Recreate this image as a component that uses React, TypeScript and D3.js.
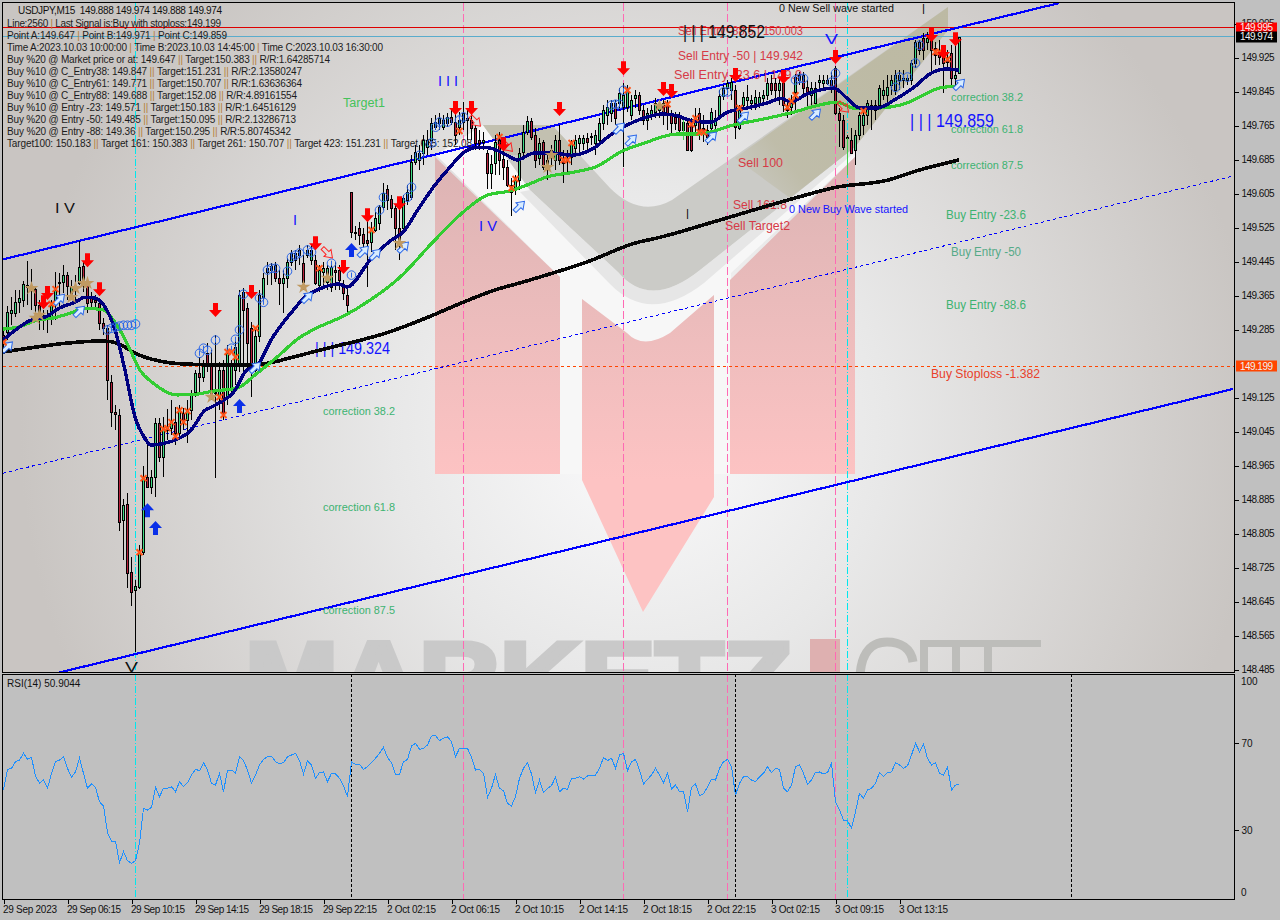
import { useEffect, useRef } from "react";
import * as d3 from "d3";

const W = 1280;
const H = 920;
const PLOT = { left: 3, right: 1234, top: 3, bottom: 672 };
const RSI_PANEL = { top: 674, bottom: 899 };

const opens = [
  149.272,149.279,149.324,149.324,149.350,149.354,149.389,149.385,149.380,149.342,
  149.307,149.316,149.314,149.354,149.394,149.396,149.413,149.361,149.382,149.394,
  149.434,149.394,149.361,149.354,149.347,149.300,149.288,149.161,149.091,149.084,
  148.836,148.874,148.714,148.672,148.679,148.761,148.938,148.914,148.938,149.065,
  148.985,149.055,149.053,149.067,149.041,149.088,149.072,149.095,149.138,149.182,
  149.173,149.229,149.206,149.138,149.126,149.189,149.126,149.142,149.189,149.206,
  149.373,149.335,149.288,149.189,149.269,149.361,149.420,149.425,149.436,149.406,
  149.394,149.406,149.444,149.465,149.460,149.441,149.460,149.448,149.448,149.389,
  149.420,149.396,149.385,149.425,149.425,149.385,149.366,149.608,149.514,149.524,
  149.509,149.495,149.491,149.519,149.535,149.573,149.615,149.592,149.571,149.524,
  149.524,149.589,149.596,149.679,149.684,149.700,149.714,149.731,149.761,149.771,
  149.761,149.771,149.785,149.773,149.761,149.773,149.782,149.778,149.759,149.731,
  149.726,149.700,149.653,149.676,149.731,149.686,149.667,149.625,149.620,149.636,
  149.702,149.749,149.775,149.742,149.688,149.726,149.665,149.695,149.684,149.731,
  149.688,149.688,149.691,149.712,149.724,149.724,149.735,149.738,149.724,149.731,
  149.771,149.789,149.794,149.818,149.818,149.808,149.808,149.789,149.829,149.836,
  149.801,149.778,149.789,149.796,149.801,149.818,149.813,149.794,149.785,149.785,
  149.754,149.771,149.766,149.766,149.794,149.759,149.754,149.759,149.766,149.789,
  149.834,149.853,149.848,149.848,149.759,149.813,149.825,149.818,149.818,149.818,
  149.829,149.836,149.865,149.865,149.848,149.865,149.813,149.808,149.844,149.872,
  149.884,149.855,149.836,149.818,149.867,149.865,149.865,149.872,149.900,149.794,
  149.778,149.735,149.731,149.707,149.742,149.766,149.789,149.806,149.801,149.813,
  149.836,149.836,149.860,149.848,149.872,149.872,149.872,149.872,149.912,149.961,
  149.971,149.961,149.971,149.947,149.942,149.938,149.926,149.935,149.876,149.888,
];

const closes = [
  149.253,149.326,149.331,149.350,149.359,149.392,149.385,149.380,149.342,149.319,
  149.316,149.312,149.342,149.378,149.396,149.413,149.387,149.385,149.378,149.432,
  149.389,149.347,149.350,149.350,149.300,149.288,149.166,149.091,149.086,148.832,
  148.872,148.712,148.667,148.681,148.759,148.935,148.914,148.938,149.065,148.985,
  149.053,149.048,149.067,149.041,149.095,149.067,149.095,149.131,149.182,149.173,
  149.201,149.201,149.126,149.138,149.189,149.088,149.229,149.201,149.244,149.366,
  149.331,149.253,149.196,149.269,149.366,149.406,149.429,149.434,149.406,149.394,
  149.406,149.444,149.465,149.448,149.472,149.396,149.472,149.472,149.394,149.425,
  149.429,149.429,149.432,149.420,149.401,149.371,149.342,149.514,149.512,149.507,
  149.488,149.488,149.524,149.547,149.573,149.606,149.589,149.571,149.524,149.495,
  149.594,149.608,149.679,149.702,149.700,149.731,149.731,149.771,149.773,149.782,
  149.778,149.785,149.773,149.742,149.778,149.794,149.778,149.759,149.724,149.724,
  149.731,149.653,149.674,149.726,149.684,149.667,149.625,149.608,149.636,149.700,
  149.749,149.775,149.738,149.684,149.724,149.667,149.684,149.707,149.731,149.684,
  149.676,149.684,149.724,149.731,149.735,149.735,149.726,149.740,149.742,149.771,
  149.801,149.808,149.818,149.782,149.841,149.836,149.848,149.825,149.836,149.801,
  149.778,149.794,149.801,149.818,149.813,149.789,149.789,149.771,149.771,149.754,
  149.773,149.707,149.707,149.785,149.747,149.747,149.738,149.796,149.782,149.834,
  149.853,149.865,149.867,149.761,149.806,149.832,149.832,149.825,149.832,149.832,
  149.836,149.865,149.848,149.848,149.865,149.813,149.801,149.825,149.879,149.884,
  149.853,149.841,149.853,149.853,149.872,149.872,149.872,149.855,149.794,149.778,
  149.714,149.738,149.700,149.742,149.789,149.789,149.818,149.813,149.813,149.853,
  149.848,149.855,149.872,149.884,149.884,149.876,149.876,149.912,149.961,149.942,
  149.942,149.971,149.942,149.931,149.926,149.912,149.914,149.876,149.884,149.974,
];

const highs = [
  149.288,149.340,149.361,149.378,149.378,149.399,149.446,149.427,149.385,149.354,
  149.331,149.331,149.354,149.420,149.418,149.436,149.420,149.401,149.413,149.493,
  149.444,149.406,149.373,149.366,149.354,149.312,149.295,149.178,149.107,149.098,
  148.886,148.900,148.749,148.695,148.778,148.964,149.018,148.954,149.076,149.076,
  149.079,149.098,149.119,149.102,149.107,149.100,149.119,149.142,149.189,149.220,
  149.213,149.253,149.236,149.272,149.208,149.213,149.248,149.213,149.267,149.378,
  149.382,149.347,149.302,149.284,149.378,149.418,149.444,149.441,149.444,149.425,
  149.425,149.453,149.472,149.472,149.484,149.460,149.484,149.484,149.460,149.436,
  149.444,149.436,149.444,149.444,149.436,149.401,149.389,149.608,149.528,149.538,
  149.524,149.542,149.538,149.561,149.578,149.629,149.625,149.601,149.578,149.578,
  149.601,149.625,149.695,149.719,149.719,149.742,149.754,149.782,149.789,149.794,
  149.789,149.794,149.801,149.796,149.796,149.820,149.801,149.806,149.766,149.754,
  149.749,149.707,149.695,149.742,149.749,149.707,149.684,149.641,149.648,149.712,
  149.766,149.787,149.782,149.759,149.735,149.731,149.695,149.719,149.742,149.766,
  149.707,149.707,149.731,149.742,149.742,149.742,149.747,149.747,149.754,149.782,
  149.813,149.825,149.825,149.825,149.853,149.865,149.860,149.836,149.848,149.844,
  149.813,149.806,149.813,149.829,149.825,149.825,149.825,149.801,149.796,149.796,
  149.778,149.782,149.782,149.806,149.806,149.789,149.766,149.806,149.801,149.848,
  149.860,149.872,149.876,149.860,149.813,149.844,149.860,149.836,149.848,149.844,
  149.848,149.876,149.884,149.876,149.876,149.872,149.825,149.836,149.886,149.891,
  149.891,149.872,149.867,149.867,149.884,149.884,149.884,149.891,149.905,149.806,
  149.789,149.742,149.759,149.754,149.796,149.801,149.825,149.825,149.825,149.860,
  149.872,149.884,149.884,149.895,149.895,149.895,149.884,149.919,149.966,149.966,
  149.982,149.985,149.978,149.961,149.966,149.947,149.942,149.954,149.961,149.974,
];

const lows = [
  149.232,149.260,149.295,149.314,149.324,149.338,149.342,149.331,149.319,149.284,
  149.284,149.276,149.295,149.307,149.340,149.371,149.354,149.354,149.354,149.389,
  149.373,149.324,149.335,149.331,149.284,149.272,149.119,149.055,149.048,148.811,
  148.742,148.676,148.634,148.526,148.674,148.754,148.912,148.898,148.891,148.973,
  148.938,149.025,149.036,149.013,149.025,149.048,149.018,149.072,149.126,149.138,
  149.161,149.185,149.119,148.935,149.095,149.072,149.107,149.131,149.154,149.185,
  149.173,149.189,149.126,149.182,149.255,149.354,149.389,149.389,149.396,149.342,
  149.324,149.382,149.434,149.425,149.436,149.378,149.453,149.436,149.389,149.373,
  149.389,149.378,149.373,149.378,149.378,149.354,149.324,149.500,149.495,149.484,
  149.472,149.385,149.467,149.514,149.519,149.566,149.566,149.547,149.472,149.448,
  149.514,149.578,149.589,149.672,149.660,149.672,149.695,149.707,149.754,149.754,
  149.754,149.761,149.766,149.719,149.742,149.754,149.731,149.731,149.707,149.707,
  149.707,149.615,149.615,149.648,149.648,149.636,149.620,149.552,149.601,149.613,
  149.693,149.742,149.731,149.665,149.672,149.660,149.636,149.672,149.660,149.672,
  149.629,149.653,149.672,149.695,149.695,149.707,149.707,149.719,149.695,149.719,
  149.754,149.766,149.773,149.766,149.801,149.667,149.796,149.778,149.806,149.789,
  149.766,149.754,149.778,149.782,149.782,149.766,149.754,149.747,149.754,149.742,
  149.754,149.705,149.702,149.742,149.731,149.726,149.719,149.749,149.749,149.782,
  149.825,149.836,149.825,149.733,149.754,149.801,149.806,149.801,149.801,149.806,
  149.813,149.825,149.836,149.825,149.813,149.796,149.782,149.789,149.801,149.860,
  149.836,149.801,149.813,149.806,149.848,149.848,149.860,149.841,149.789,149.714,
  149.707,149.648,149.700,149.672,149.731,149.742,149.766,149.754,149.778,149.801,
  149.825,149.820,149.836,149.836,149.848,149.853,149.860,149.860,149.900,149.931,
  149.919,149.942,149.891,149.907,149.907,149.841,149.895,149.860,149.860,149.888,
];

const rsiValues = [
  48.4,57.9,58.4,61.4,62.2,65.3,62.5,63.4,54.9,51.5,
  53.0,49.2,56.1,61.4,62.2,63.7,58.4,54.3,56.8,63.0,
  56.1,49.2,51.2,49.6,43.0,41.1,28.8,24.8,24.8,15.0,
  20.1,15.9,14.7,15.9,23.9,40.0,39.2,40.4,49.6,45.4,
  49.2,49.2,49.9,47.6,52.2,49.9,51.8,55.3,57.9,57.3,
  61.0,57.6,51.5,50.7,56.1,47.6,57.6,57.6,56.1,63.7,
  61.9,57.6,51.5,55.3,59.9,62.5,63.7,64.0,61.4,60.4,
  61.0,63.7,64.5,65.3,61.9,55.8,61.9,59.9,53.8,56.4,
  56.7,52.2,56.1,55.8,53.8,50.3,45.4,61.3,60.2,60.2,
  57.9,59.1,61.0,63.0,65.3,68.0,63.4,61.0,55.6,55.6,
  61.4,62.5,68.6,69.9,67.1,67.6,69.1,73.2,73.5,71.1,
  72.2,72.9,70.6,63.7,67.6,67.6,67.6,63.4,57.6,57.9,
  56.1,45.0,49.2,55.6,49.2,
  48.1,42.3,41.1,45.4,53.8,58.4,61.0,55.8,47.2,53.0,
  47.2,49.2,50.4,54.3,47.6,49.2,48.7,53.8,53.8,54.5,
  53.5,54.9,55.2,55.2,58.4,63.4,61.9,63.0,58.4,64.5,
  65.3,57.3,61.4,62.5,57.6,51.2,53.3,55.3,58.4,55.3,
  51.8,56.1,48.9,50.7,47.6,47.6,38.4,49.6,51.2,45.8,
  46.6,49.9,53.3,53.0,58.4,61.4,62.5,59.1,46.1,51.5,
  54.5,54.5,53.0,52.2,54.5,56.1,59.1,56.4,58.4,57.9,
  49.2,47.6,50.7,59.1,59.9,56.1,51.0,53.0,56.5,56.7,
  55.8,56.4,60.7,43.0,39.2,34.6,34.3,30.8,38.4,46.9,
  44.6,48.4,49.2,51.5,56.4,54.5,56.4,56.7,61.0,59.9,
  58.4,59.5,64.5,69.9,66.0,69.6,63.0,59.9,61.0,56.1,
  55.3,59.1,48.4,50.7,50.9,
];

const navyBars = [0,7,11,14,18,20.5,23,25.5,28,30.5,33,35.5,37,39,43,47,50.5,52,54,58,60.5,64,67,72,75.5,79,84,86,91.75,96.75,100,104,108,111.75,115,118.75,121.75,126,128.5,132.75,137.75,142,147.75,151.75,156,160,165,168,172.75,177,181,186,191,194.75,196.75,201,207.75,211,214.25,218.5,223.5,227.75,232,236,239];
const navyPrices = [149.260,149.307,149.316,149.335,149.349,149.361,149.359,149.338,149.284,149.189,149.079,149.029,149.013,149.015,149.025,149.048,149.095,149.102,149.112,149.142,149.185,149.206,149.260,149.324,149.361,149.380,149.392,149.385,149.448,149.493,149.514,149.571,149.625,149.667,149.700,149.714,149.712,149.695,149.684,149.700,149.700,149.695,149.712,149.742,149.766,149.782,149.792,149.789,149.775,149.773,149.796,149.806,149.818,149.829,149.820,149.839,149.853,149.829,149.806,149.806,149.829,149.855,149.888,149.898,149.895];
const greenBars = [0,4,8.5,12.5,16,21,25,28,31,34.25,37.5,43.5,48.5,52.5,58.5,63.5,68.5,74,79,85,91.75,99.25,107.5,115,121,126.75,131,136,142.5,148.5,154.25,161,168.5,174,182.5,190,197.5,204,208.5,212.75,218.5,226,231,234,239];
const greenPrices = [149.286,149.291,149.307,149.312,149.321,149.335,149.331,149.302,149.253,149.189,149.159,149.131,149.133,149.140,149.147,149.182,149.220,149.265,149.291,149.316,149.354,149.408,149.491,149.561,149.601,149.611,149.625,149.644,149.655,149.669,149.702,149.726,149.745,149.745,149.766,149.780,149.796,149.813,149.820,149.806,149.806,149.818,149.841,149.853,149.858];
const blackBars = [0,8.5,16,25,28.5,33.5,39,45,57.5,65,72.5,79,96.5,105.75,115,123,129,146,159,162.5,179,196,208.5,221,229,239];
const blackPrices = [149.232,149.244,149.253,149.258,149.253,149.227,149.211,149.204,149.201,149.204,149.220,149.236,149.279,149.312,149.349,149.378,149.394,149.444,149.491,149.498,149.542,149.589,149.620,149.636,149.660,149.684];

const downArrowBars = [21,11,10,24,53,62,78,85,91,99,113,117,125,139,155,165,167,183,195,208,232,235,238];
const downArrowPrices = [149.448,149.371,149.349,149.380,149.331,149.373,149.488,149.432,149.554,149.582,149.806,149.806,149.721,149.804,149.900,149.851,149.846,149.884,149.879,149.926,149.978,149.938,149.968];
const upArrowBars = [59,36,38,87];
const upArrowPrices = [149.105,148.860,148.818,149.472];
const crossBars = [0,13,12,40,41,42,43,44,46,45,55,54,56,57,58,63,35,34,79,92,114,124,128,127,140,141,142,156,166,172,173,174,175,184,196,197,198,215,233,234,236];
const crossPrices = [149.255,149.380,149.345,149.051,149.053,149.067,149.034,149.095,149.093,149.067,149.084,149.126,149.232,149.232,149.220,149.288,148.935,148.761,149.429,149.519,149.752,149.738,149.639,149.618,149.684,149.684,149.724,149.848,149.815,149.768,149.782,149.749,149.749,149.806,149.808,149.822,149.836,149.799,149.938,149.938,149.921];
const starBars = [7,9,8,17,18,21,20,52,75,81,99,137,136,164];
const starPrices = [149.382,149.319,149.312,149.361,149.382,149.394,149.394,149.126,149.385,149.406,149.488,149.695,149.667,149.811];
const ringBars = [26,27,28,29,30,31,32,33,49,50,51,53,57,58,59,60,64,65,66,67,68,71,72,73,74,76,77,82,87,94,95,101,102,104,107,108,109,111,114,115,152,153,154,155,180,181,198,199,200,207,208,223,224,226,228,229];
const ringPrices = [149.284,149.288,149.291,149.293,149.295,149.295,149.295,149.298,149.229,149.241,149.236,149.260,149.241,149.262,149.284,149.368,149.359,149.349,149.425,149.429,149.429,149.422,149.455,149.460,149.465,149.472,149.467,149.441,149.413,149.566,149.596,149.596,149.620,149.695,149.724,149.761,149.773,149.773,149.778,149.785,149.813,149.815,149.815,149.848,149.844,149.844,149.872,149.876,149.876,149.867,149.888,149.855,149.879,149.879,149.912,149.954];
const hollowUpBars = [1,14,19,63,76,90,93,100,129,154,157,177,185,203,239];
const hollowUpPrices = [149.244,149.356,149.328,149.196,149.361,149.469,149.462,149.479,149.575,149.759,149.731,149.738,149.785,149.792,149.862];
const hollowDownBars = [81,118,126,210];
const hollowDownPrices = [149.465,149.775,149.716,149.808];
const thinGreenBars = [57,170,211];
const thinGreenTops = [149.189,149.785,149.735];
const thinGreenBottoms = [149.142,149.730,149.648];

const priceTicks = [150.005,149.925,149.845,149.765,149.685,149.605,149.525,149.445,149.365,149.285,149.125,149.045,148.965,148.885,148.805,148.725,148.645,148.565,148.485];
const timeBars = [0,16,32,48,64,80,96,112,128,144,160,176,192,208,224];
const timeLabels = ["29 Sep 2023","29 Sep 06:15","29 Sep 10:15","29 Sep 14:15","29 Sep 18:15","29 Sep 22:15","2 Oct 02:15","2 Oct 06:15","2 Oct 10:15","2 Oct 14:15","2 Oct 18:15","2 Oct 22:15","3 Oct 02:15","3 Oct 09:15","3 Oct 13:15"];

const cyanLineBars = [33,211];
const pinkLineBars = [115,155,181,208];
const blackLineBars = [87,183,267];

// [start bar, start price, end bar, end price]
const channelTop = [0,149.450,264,150.053];
const channelBottom = [0,148.446,307.5,149.145];
const channelMid = [0,148.947,307.5,149.646];

const resistanceLevel = 149.995;
const bidLevel = 149.974;
const stopLevel = 149.199;

const infoLines = [
  { t: "Line:2560 | Last Signal is:Buy with stoploss:149.199", w: 214 },
  { t: "Point A:149.647 | Point B:149.971 | Point C:149.859", w: 220 },
  { t: "Time A:2023.10.03 10:00:00 | Time B:2023.10.03 14:45:00 | Time C:2023.10.03 16:30:00", w: 376 },
  { t: "Buy %20 @ Market price or at: 149.647 || Target:150.383 || R/R:1.64285714", w: 323 },
  { t: "Buy %10 @ C_Entry38: 149.847 || Target:151.231 || R/R:2.13580247", w: 295 },
  { t: "Buy %10 @ C_Entry61: 149.771 || Target:150.707 || R/R:1.63636364", w: 295 },
  { t: "Buy %10 @ C_Entry88: 149.688 || Target:152.08 || R/R:4.89161554", w: 290 },
  { t: "Buy %10 @ Entry -23: 149.571 || Target:150.183 || R/R:1.64516129", w: 289 },
  { t: "Buy %20 @ Entry -50: 149.485 || Target:150.095 || R/R:2.13286713", w: 289 },
  { t: "Buy %20 @ Entry -88: 149.36 || Target:150.295 || R/R:5.80745342", w: 284 },
  { t: "Target100: 150.183 || Target 161: 150.383 || Target 261: 150.707 || Target 423: 151.231 || Target 685: 152.08", w: 465 },
];

const GREEN = "#3cb371";
const RED = "#d63a46";
const BLUE = "#1414ff";
const annotations: [string, number, number, number, number, string][] = [
  ["Target1", 343, 107, 42, 12.5, "#45c25a"],
  ["correction 38.2", 951, 101, 72, 11.5, GREEN],
  ["correction 61.8", 951, 133, 72, 11.5, GREEN],
  ["correction 87.5", 951, 169, 72, 11.5, GREEN],
  ["correction 38.2", 323, 415, 72, 11.5, GREEN],
  ["correction 61.8", 323, 511, 72, 11.5, GREEN],
  ["correction 87.5", 323, 614, 72, 11.5, GREEN],
  ["Buy Entry -23.6", 946, 219, 80, 12, GREEN],
  ["Buy Entry -50", 951, 256, 70, 12, "#55aa88"],
  ["Buy Entry -88.6", 946, 309, 80, 12, GREEN],
  ["Buy Stoploss -1.382", 931, 378, 109, 12, "#e8402a"],
  ["Sell Entry -88.6 | 150.003", 678, 35, 125, 12, RED],
  ["Sell Entry -50 | 149.942", 678, 60, 125, 12, RED],
  ["Sell Entry -23.6 | 149.9", 674, 79, 128, 12, RED],
  ["Sell 100", 738, 167, 45, 12, RED],
  ["Sell 161.8", 733, 209, 54, 12, RED],
  ["Sell Target2", 725, 230, 65, 12, RED],
  ["| | | 149.852", 683, 38, 82, 18, "#111111"],
  ["| | | 149.859", 910, 127, 84, 18, BLUE],
  ["| | | 149.324", 315, 354, 75, 16, BLUE],
  ["0 New Buy Wave started", 789, 213, 119, 11.5, BLUE],
  ["0 New Sell wave started", 779, 12, 115, 11.5, "#111111"],
  ["I V", 55, 213, 20, 15, "#111111"],
  ["I", 293, 225, 4, 15, BLUE],
  ["I", 686, 219, 3, 15, "#111111"],
  ["I", 922, 14, 3, 14, "#111111"],
  ["V", 125, 672, 13, 15, "#111111"],
  ["V", 825, 44, 13, 15, BLUE],
  ["I V", 479, 231, 18, 15, BLUE],
  ["I I I", 438, 86, 20, 15, BLUE],
];

export default function App() {
  const svgRef = useRef<SVGSVGElement>(null);

  useEffect(() => {
    if (!svgRef.current) return;
    const svg = d3.select(svgRef.current);
    svg.selectAll("*").remove();

    const x = d3.scaleLinear().domain([0, 1]).range([3, 7]);
    const y = d3.scaleLinear().domain([149.925, 148.485]).range([57.5, 669.5]);
    const rsiY = d3.scaleLinear().domain([0, 100]).range([895.3, 677.8]);

    svg.append("rect").attr("width", W).attr("height", H).attr("fill", "#c0c0c0");

    const defs = svg.append("defs");
    defs.append("clipPath").attr("id", "plot-clip").append("rect")
      .attr("x", PLOT.left).attr("y", PLOT.top)
      .attr("width", PLOT.right - PLOT.left).attr("height", PLOT.bottom - PLOT.top);
    const bg = defs.append("radialGradient").attr("id", "plot-bg")
      .attr("gradientUnits", "userSpaceOnUse")
      .attr("cx", 640).attr("cy", 430).attr("r", 620);
    bg.append("stop").attr("offset", "0").attr("stop-color", "#fbfbfc");
    bg.append("stop").attr("offset", "0.4").attr("stop-color", "#e8e8e8");
    bg.append("stop").attr("offset", "1").attr("stop-color", "#c9c5c2");
    const redFill = defs.append("linearGradient").attr("id", "logo-red")
      .attr("gradientUnits", "userSpaceOnUse")
      .attr("x1", 0).attr("x2", 0).attr("y1", 160).attr("y2", 480);
    redFill.append("stop").attr("offset", "0").attr("stop-color", "#dcb4b4");
    redFill.append("stop").attr("offset", "0.5").attr("stop-color", "#ecbcbc");
    redFill.append("stop").attr("offset", "1").attr("stop-color", "#fdc3c3");
    const oliveFill = defs.append("linearGradient").attr("id", "logo-olive")
      .attr("gradientUnits", "userSpaceOnUse")
      .attr("x1", 900).attr("y1", 60).attr("x2", 730).attr("y2", 190);
    oliveFill.append("stop").attr("offset", "0").attr("stop-color", "#bcb9a2").attr("stop-opacity", 0.95);
    oliveFill.append("stop").attr("offset", "0.7").attr("stop-color", "#bcb9a2").attr("stop-opacity", 0.8);
    oliveFill.append("stop").attr("offset", "1").attr("stop-color", "#bcb9a2").attr("stop-opacity", 0);

    const plot = svg.append("g").attr("clip-path", "url(#plot-clip)");
    plot.append("rect").attr("x", PLOT.left).attr("y", PLOT.top)
      .attr("width", PLOT.right - PLOT.left).attr("height", PLOT.bottom - PLOT.top)
      .attr("fill", "url(#plot-bg)");

    // watermark logo
    const logo = plot.append("g");
    logo.append("path")
      .attr("d", "M436,155 L483,125 L530,190 L618,272 Q650,310 700,270 L855,147 L855,157 L731,273 L731,474 L714,474 L714,295 L670,333 Q643,350 627,333 L582,299 L582,474 L560,474 L560,277 Z")
      .attr("fill", "#f7f7f7");
    logo.append("path")
      .attr("d", "M520,192 L530,190 L618,272 Q650,310 700,270 L855,147 L855,152 L704,283 Q650,325 610,284 Z")
      .attr("fill", "#e6e6e6");
    logo.append("path")
      .attr("d", "M483,125 L552,125 L610,188 Q640,218 672,200 L948,7 L948,30 L855,147 L700,270 Q650,310 618,272 L530,190 Z")
      .attr("fill", "#cbcbc7");
    logo.append("path").attr("d", "M483,125 L552,125 L580,155 L505,155 Z").attr("fill", "#bdbba6").attr("opacity", 0.7);
    logo.append("path").attr("d", "M735,158 L948,7 L948,30 L855,147 L790,198 Z").attr("fill", "url(#logo-olive)");
    logo.append("path").attr("d", "M435,157 L560,277 L560,474 L435,474 Z").attr("fill", "url(#logo-red)");
    logo.append("path").attr("d", "M730,280 L855,157 L855,474 L730,474 Z").attr("fill", "url(#logo-red)");
    logo.append("path")
      .attr("d", "M582,299 L627,333 Q643,350 670,333 L714,295 L714,497 L643,612 L582,480 Z")
      .attr("fill", "url(#logo-red)");
    logo.append("text").attr("x", 245).attr("y", 712)
      .attr("font-family", "Liberation Sans").attr("font-weight", 700).attr("font-size", 100)
      .attr("textLength", 547).attr("lengthAdjust", "spacingAndGlyphs")
      .attr("fill", "#c9c9c9").attr("stroke", "#c9c9c9").attr("stroke-width", 5).text("MARKETZ");
    logo.append("rect").attr("x", 810).attr("y", 639).attr("width", 30).attr("height", 40).attr("fill", "#deb0b0");
    logo.append("path").attr("d", "M913,662 C911,648 900,642 887,642 C868,642 860,658 860,680")
      .attr("fill", "none").attr("stroke", "#bdbdba").attr("stroke-width", 9);
    logo.append("rect").attr("x", 920).attr("y", 640).attr("width", 121).attr("height", 7).attr("fill", "#bdbdba");
    [920, 952, 984].forEach((sx) => {
      logo.append("rect").attr("x", sx).attr("y", 647).attr("width", 8).attr("height", 30).attr("fill", "#bdbdba");
    });

    const vLines = (g: any, bars: number[], color: string, dash: string, y1: number, y2: number) => {
      g.selectAll(null).data(bars).enter().append("line")
        .attr("x1", (d: number) => x(d) + 0.5).attr("x2", (d: number) => x(d) + 0.5)
        .attr("y1", y1).attr("y2", y2)
        .attr("stroke", color).attr("stroke-dasharray", dash).attr("shape-rendering", "crispEdges");
    };
    vLines(plot, pinkLineBars, "#ff69b4", "8 3", PLOT.top, PLOT.bottom);
    vLines(plot, cyanLineBars, "#00e8ee", "7 2 1 2", PLOT.top, PLOT.bottom);

    // horizontal levels
    const hLine = (level: number, color: string, dash: string | null) => {
      const py = Math.floor(y(level)) + 0.5;
      plot.append("line").attr("x1", PLOT.left).attr("x2", PLOT.right).attr("y1", py).attr("y2", py)
        .attr("stroke", color).attr("stroke-dasharray", dash).attr("shape-rendering", "crispEdges");
    };
    hLine(resistanceLevel, "#dd0000", null);
    hLine(bidLevel, "#5aaccc", null);
    hLine(stopLevel, "#ff4500", "3 3");

    // channel
    const channel = (c: number[], width: number, dash: string | null) => {
      plot.append("line")
        .attr("x1", x(c[0])).attr("y1", y(c[1])).attr("x2", x(c[2])).attr("y2", y(c[3]))
        .attr("stroke", "#0000ff").attr("stroke-width", width).attr("stroke-dasharray", dash)
        .attr("shape-rendering", "crispEdges");
    };
    channel(channelTop, 2.2, null);
    channel(channelBottom, 2.2, null);
    channel(channelMid, 1, "3 3");

    // info text, top left
    const infoFont = "Liberation Sans";
    plot.append("text").attr("x", 18).attr("y", 13.5).attr("font-family", infoFont).attr("font-size", 10)
      .attr("fill", "#111").attr("textLength", 204).attr("xml:space", "preserve")
      .text("USDJPY,M15  149.888 149.974 149.888 149.974");
    infoLines.forEach((line, i) => {
      const te = plot.append("text").attr("x", 7).attr("y", 26.5 + i * 12)
        .attr("font-family", infoFont).attr("font-size", 10).attr("fill", "#1c1c1c")
        .attr("textLength", line.w);
      line.t.split(/(\|\|?)/).forEach((part) => {
        te.append("tspan").attr("fill", part.startsWith("|") ? "#b5803c" : "#1c1c1c").text(part);
      });
    });

    plot.selectAll("text.note").data(annotations).enter().append("text")
      .attr("class", "note")
      .attr("x", (d) => d[1]).attr("y", (d) => d[2])
      .attr("textLength", (d) => d[3]).attr("lengthAdjust", "spacingAndGlyphs")
      .attr("font-size", (d) => d[4]).attr("fill", (d) => d[5])
      .attr("font-family", "Liberation Sans")
      .text((d) => d[0]);

    // candles
    const candles = plot.append("g").attr("shape-rendering", "crispEdges");
    closes.forEach((close, i) => {
      const cx = x(i) + 0.5;
      const open = opens[i];
      candles.append("line").attr("x1", cx).attr("x2", cx)
        .attr("y1", Math.round(y(highs[i]))).attr("y2", Math.round(y(lows[i]))).attr("stroke", "#000");
      const top = Math.round(y(Math.max(open, close))) + 0.5;
      const bottom = Math.round(y(Math.min(open, close))) + 0.5;
      candles.append("rect").attr("x", cx - 1).attr("width", 2)
        .attr("y", top).attr("height", Math.max(bottom - top, 1))
        .attr("fill", close >= open ? "#3fdc85" : "#b8203c").attr("stroke", "#000");
    });
    thinGreenBars.forEach((b, i) => {
      candles.append("line").attr("x1", x(b) + 0.5).attr("x2", x(b) + 0.5)
        .attr("y1", y(thinGreenTops[i])).attr("y2", y(thinGreenBottoms[i])).attr("stroke", "#3ccf4e");
    });

    // moving averages
    const maLine = (bars: number[], prices: number[], color: string, width: number) => {
      const line = d3.line<number>()
        .x((d) => x(d)).y((_, i) => y(prices[i])).curve(d3.curveMonotoneX);
      plot.append("path").attr("d", line(bars)).attr("fill", "none")
        .attr("stroke", color).attr("stroke-width", width).attr("stroke-linejoin", "round")
        .attr("shape-rendering", "crispEdges");
    };
    maLine(blackBars, blackPrices, "#050505", 3.6);
    maLine(greenBars, greenPrices, "#32cd32", 3.2);
    maLine(navyBars, navyPrices, "#000080", 3.4);

    // signal markers
    const markers = plot.append("g");
    const arrowPath = "M-2.5,7 L2.5,7 L2.5,0 L6.5,0 L0,-7 L-6.5,0 L-2.5,0 Z";
    const hollowPath = "M-2,7 L2,7 L2,0 L5,0 L0,-7 L-5,0 L-2,0 Z";
    const place = (bars: number[], prices: number[], draw: (g: any) => void) => {
      bars.forEach((b, i) => {
        draw(markers.append("g").attr("transform", `translate(${x(b) + 0.5},${y(prices[i])})`));
      });
    };
    place(ringBars, ringPrices, (g) => {
      g.append("circle").attr("r", 4.3).attr("fill", "none").attr("stroke", "#2a66e8").attr("stroke-width", 1);
      g.append("line").attr("y1", -2.5).attr("y2", 2.5).attr("stroke", "#2a66e8");
    });
    place(hollowUpBars, hollowUpPrices, (g) => {
      g.append("path").attr("d", hollowPath)
        .attr("transform", "rotate(45)").attr("fill", "#d8ecff").attr("stroke", "#2a66e8");
    });
    place(hollowDownBars, hollowDownPrices, (g) => {
      g.append("path").attr("d", hollowPath)
        .attr("transform", "rotate(135)").attr("fill", "none").attr("stroke", "#ff2222");
    });
    place(starBars, starPrices, (g) => {
      g.append("path").attr("d", d3.symbol().type(d3.symbolStar).size(60)()).attr("fill", "#c09a62");
    });
    place(crossBars, crossPrices, (g) => {
      g.append("path").attr("d", "M-3,-3 L3,3 M3,-3 L-3,3").attr("stroke", "#ff5518").attr("stroke-width", 2);
    });
    place(downArrowBars, downArrowPrices, (g) => {
      g.append("path").attr("d", arrowPath).attr("transform", "rotate(180)").attr("fill", "#ff0000");
    });
    place(upArrowBars, upArrowPrices, (g) => {
      g.append("path").attr("d", arrowPath).attr("fill", "#0a30e8");
    });

    // RSI panel
    const rsi = svg.append("g");
    vLines(rsi, pinkLineBars, "#ff69b4", "8 3", RSI_PANEL.top, RSI_PANEL.bottom);
    vLines(rsi, cyanLineBars, "#00e8ee", "7 2 1 2", RSI_PANEL.top, RSI_PANEL.bottom);
    vLines(rsi, blackLineBars, "#000", "3 2", RSI_PANEL.top, RSI_PANEL.bottom);
    const rsiLine = d3.line<number>().x((_, i) => x(i) + 0.5).y((d) => rsiY(d));
    rsi.append("path").attr("d", rsiLine(rsiValues)).attr("fill", "none")
      .attr("stroke", "#1e90ff").attr("stroke-width", 1).attr("shape-rendering", "crispEdges");
    rsi.append("text").attr("x", 7).attr("y", 687).attr("font-family", infoFont).attr("font-size", 10)
      .attr("fill", "#111").text("RSI(14) 50.9044");

    // frames
    const frame = (top: number, bottom: number) => {
      svg.append("rect").attr("x", 2.5).attr("y", top + 0.5)
        .attr("width", PLOT.right - 2).attr("height", bottom - top)
        .attr("fill", "none").attr("stroke", "#000").attr("shape-rendering", "crispEdges");
    };
    frame(2, PLOT.bottom);
    frame(RSI_PANEL.top, RSI_PANEL.bottom);

    // axes
    const styleAxis = (g: any) => {
      g.select(".domain").remove();
      g.selectAll("line").attr("stroke", "#000").attr("shape-rendering", "crispEdges");
      g.selectAll("text").attr("fill", "#111").attr("font-family", infoFont).attr("font-size", 10);
    };
    const priceAxis = svg.append("g").attr("transform", `translate(${PLOT.right + 0.5},0)`)
      .call(d3.axisRight(y).tickValues(priceTicks).tickFormat(d3.format(".3f")).tickSize(4).tickPadding(3) as any);
    styleAxis(priceAxis);
    priceAxis.selectAll("text").attr("textLength", 33);

    const rsiAxis = svg.append("g").attr("transform", `translate(${PLOT.right + 0.5},0)`)
      .call(d3.axisRight(rsiY).tickValues([30, 70]).tickSize(4).tickPadding(3) as any);
    styleAxis(rsiAxis);
    rsi.append("text").attr("x", 1241).attr("y", 685).attr("font-family", infoFont).attr("font-size", 10).attr("fill", "#111").text("100");
    rsi.append("text").attr("x", 1241).attr("y", 896).attr("font-family", infoFont).attr("font-size", 10).attr("fill", "#111").text("0");

    const timeAxis = svg.append("g").attr("transform", `translate(0.5,${RSI_PANEL.bottom + 0.5})`)
      .call(d3.axisBottom(x).tickValues(timeBars)
        .tickFormat((_, i) => timeLabels[i]).tickSize(4).tickPadding(2) as any);
    styleAxis(timeAxis);
    timeAxis.selectAll("text").attr("text-anchor", "start").attr("dx", -1).attr("textLength", function (this: any) {
      return this.textContent.startsWith("29") ? 54 : 49;
    });

    // price tags
    const tag = (level: number, color: string, label: string) => {
      const py = y(level);
      svg.append("rect").attr("x", 1236).attr("y", Math.round(py) - 5.5).attr("width", 41).attr("height", 11).attr("fill", color);
      svg.append("text").attr("x", 1240).attr("y", py + 3.5).attr("font-family", infoFont).attr("font-size", 10)
        .attr("textLength", 33).attr("fill", "#f0f0f0").text(label);
    };
    tag(resistanceLevel, "#ff0000", "149.995");
    tag(bidLevel, "#000000", "149.974");
    tag(stopLevel, "#ff4500", "149.199");
  }, []);

  return (
    <svg
      ref={svgRef}
      width={W}
      height={H}
      style={{ position: "absolute", left: 0, top: 0, display: "block" }}
    />
  );
}
